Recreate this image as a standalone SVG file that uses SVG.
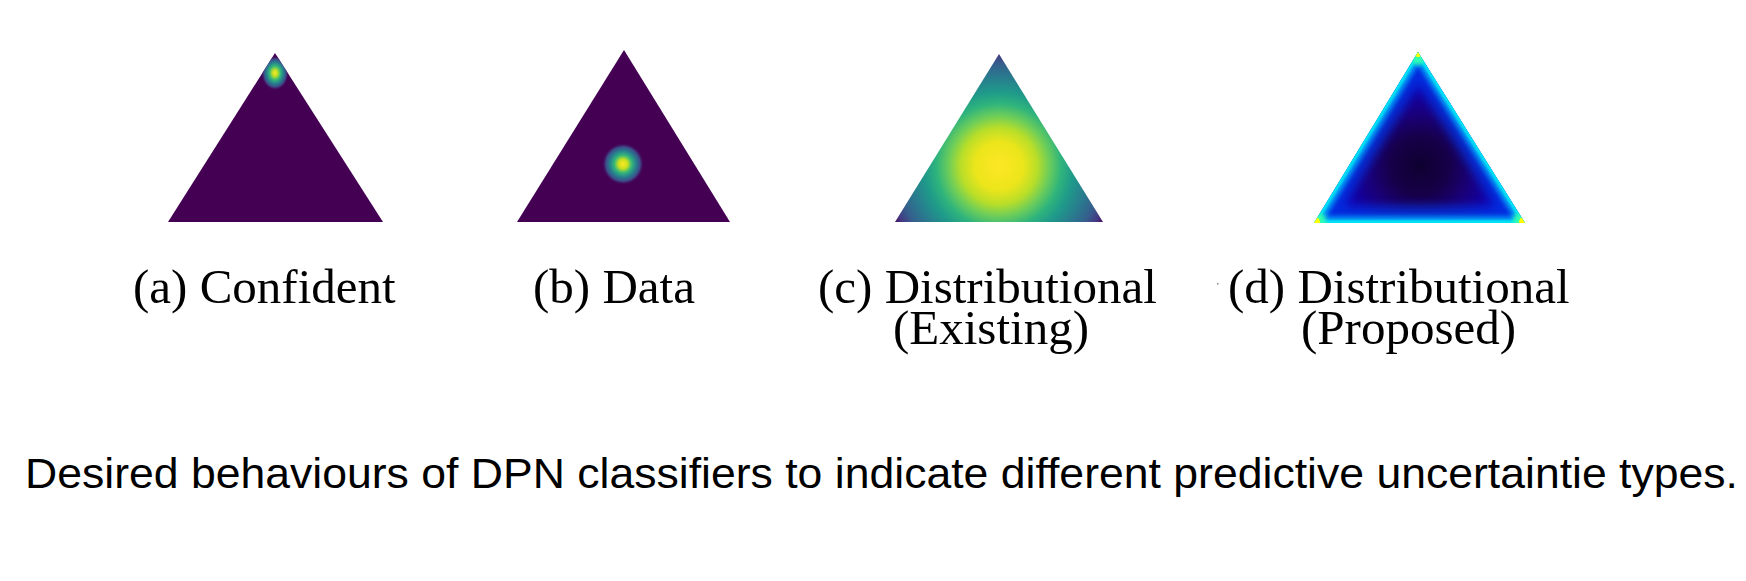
<svg xmlns="http://www.w3.org/2000/svg" width="1746" height="581" viewBox="0 0 1746 581">
<style>
  .lbl { font-family: "Liberation Serif", "Times New Roman", serif; font-size: 49px; fill: #000; }
  .cap { font-family: "Liberation Sans", Arial, sans-serif; font-size: 42px; fill: #000; }
</style>
<defs>
  <radialGradient id="blobA" cx="275" cy="73" r="14" gradientUnits="userSpaceOnUse" gradientTransform="translate(275 73) scale(1 1.25) translate(-275 -73)">
    <stop offset="0" stop-color="#fde725"/>
    <stop offset="0.2" stop-color="#b5de2b"/>
    <stop offset="0.4" stop-color="#35b779"/>
    <stop offset="0.6" stop-color="#26828e"/>
    <stop offset="0.8" stop-color="#3e4a89"/>
    <stop offset="1" stop-color="#440154" stop-opacity="0"/>
  </radialGradient>
  <radialGradient id="blobB" cx="623" cy="164" r="21" gradientUnits="userSpaceOnUse">
    <stop offset="0" stop-color="#fde725"/>
    <stop offset="0.22" stop-color="#c8e020"/>
    <stop offset="0.42" stop-color="#35b779"/>
    <stop offset="0.62" stop-color="#26828e"/>
    <stop offset="0.82" stop-color="#3e4a89"/>
    <stop offset="1" stop-color="#440154" stop-opacity="0"/>
  </radialGradient>
  <radialGradient id="viridisC" cx="999" cy="166" r="120" gradientUnits="userSpaceOnUse">
    <stop offset="0" stop-color="#fde725"/>
    <stop offset="0.2" stop-color="#ece51b"/>
    <stop offset="0.32" stop-color="#b8de29"/>
    <stop offset="0.42" stop-color="#6ccd5a"/>
    <stop offset="0.52" stop-color="#2fb47c"/>
    <stop offset="0.62" stop-color="#1f9a8a"/>
    <stop offset="0.74" stop-color="#287c8e"/>
    <stop offset="0.85" stop-color="#355f8d"/>
    <stop offset="0.93" stop-color="#443a83"/>
    <stop offset="1" stop-color="#440154"/>
  </radialGradient>
  <radialGradient id="darkD" cx="1420" cy="166" r="115" gradientUnits="userSpaceOnUse">
    <stop offset="0" stop-color="#0e0030"/>
    <stop offset="0.25" stop-color="#160048"/>
    <stop offset="0.45" stop-color="#1a007a"/>
    <stop offset="0.65" stop-color="#1200a8"/>
    <stop offset="0.85" stop-color="#0a00c4"/>
    <stop offset="1" stop-color="#0010d8"/>
  </radialGradient>
  <clipPath id="clipA">
    <polygon points="275,53 383,222 168,222"/>
  </clipPath>
  <clipPath id="clipD">
    <polygon points="1418,52 1525,223 1314,223"/>
  </clipPath>
  <filter id="blur5" x="-20%" y="-20%" width="140%" height="140%"><feGaussianBlur stdDeviation="5"/></filter>
  <filter id="blur2" x="-20%" y="-20%" width="140%" height="140%"><feGaussianBlur stdDeviation="2"/></filter>
  <filter id="blur1" x="-20%" y="-20%" width="140%" height="140%"><feGaussianBlur stdDeviation="1.2"/></filter>
</defs>
<rect width="1746" height="581" fill="#ffffff"/>

<g id="node-a">
  <polygon points="275,53 383,222 168,222" fill="#440154"/>
  <ellipse cx="275" cy="74" rx="14" ry="18" fill="url(#blobA)" clip-path="url(#clipA)"/>
  <text class="lbl" x="133" y="303">(a) Confident</text>
</g>

<g id="node-b">
  <polygon points="624,50 730,222 517,222" fill="#440154"/>
  <circle cx="623" cy="164" r="21" fill="url(#blobB)"/>
  <text class="lbl" x="533" y="303">(b) Data</text>
</g>

<g id="node-c">
  <polygon points="999,54 1103,222 895,222" fill="url(#viridisC)"/>
  <text class="lbl"><tspan x="818" y="303">(c) Distributional</tspan><tspan x="893" y="344">(Existing)</tspan></text>
</g>

<g id="node-d">
  <g clip-path="url(#clipD)">
    <polygon points="1418,52 1525,223 1314,223" fill="url(#darkD)"/>
    <polygon points="1418,52 1525,223 1314,223" fill="none" stroke="#0038e8" stroke-width="34" stroke-linejoin="round" opacity="0.75" filter="url(#blur5)"/>
    <polygon points="1418,52 1525,223 1314,223" fill="none" stroke="#0090f4" stroke-width="14" stroke-linejoin="round" filter="url(#blur2)"/>
    <polygon points="1418,52 1525,223 1314,223" fill="none" stroke="#00e4f4" stroke-width="6" stroke-linejoin="round" filter="url(#blur1)"/>
    <circle cx="1418" cy="58" r="7" fill="#30ffb0" filter="url(#blur2)"/>
    <circle cx="1319" cy="220" r="7" fill="#30ffb0" filter="url(#blur2)"/>
    <circle cx="1520" cy="220" r="7" fill="#30ffb0" filter="url(#blur2)"/>
    <circle cx="1418" cy="53" r="4" fill="#ffff00"/>
    <circle cx="1315" cy="222" r="5" fill="#ffff00"/>
    <circle cx="1524" cy="222" r="5" fill="#ffff00"/>
  </g>
  <text class="lbl"><tspan x="1228" y="303">(d) Distributional</tspan><tspan x="1301" y="344">(Proposed)</tspan></text>
</g>

<rect x="1217" y="283" width="1.5" height="1.5" fill="#888888"/>

<g id="connectors"></g>

<g id="caption">
  <text class="cap" x="25" y="488" textLength="1713" lengthAdjust="spacingAndGlyphs">Desired behaviours of DPN classifiers to indicate different predictive uncertaintie types.</text>
</g>
</svg>
